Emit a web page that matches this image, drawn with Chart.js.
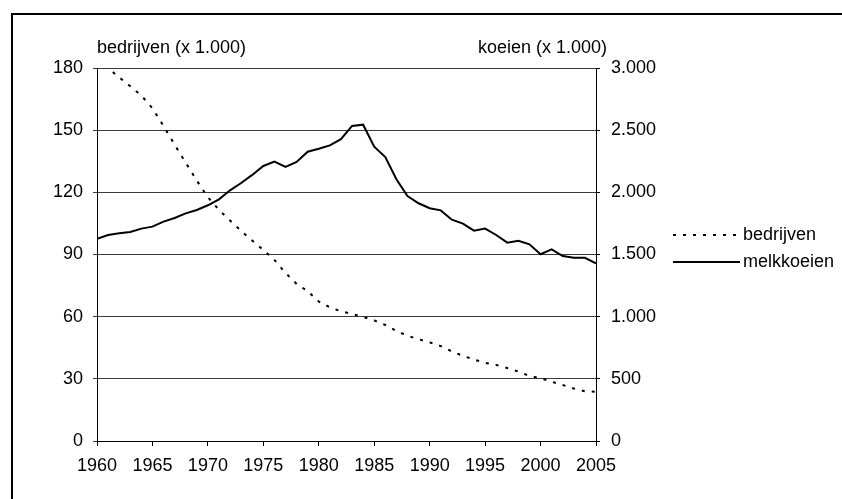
<!DOCTYPE html>
<html>
<head>
<meta charset="utf-8">
<script src="https://cdn.jsdelivr.net/npm/chart.js@4/dist/chart.umd.min.js"></script>
<style>
  html, body { margin: 0; padding: 0; background: #fff; }
  #wrap { width: 842px; height: 499px; position: relative; }
</style>
</head>
<body>
<div id="wrap"><canvas id="c" width="842" height="499"></canvas></div>
<script>
const years = [1960,1961,1962,1963,1964,1965,1966,1967,1968,1969,1970,1971,1972,1973,1974,1975,1976,1977,1978,1979,1980,1981,1982,1983,1984,1985,1986,1987,1988,1989,1990,1991,1992,1993,1994,1995,1996,1997,1998,1999,2000,2001,2002,2003,2004,2005];
const bedrijven = [184,180,175.5,171.2,166.7,160.6,152,143,134.3,125.7,117.6,111.5,106.4,101.4,96.7,92.2,87.4,81.1,75.8,72.3,67.3,64.5,62.6,61.3,59.9,58.2,56,53.1,50.8,49.1,47.6,45.8,43.2,41.1,39.3,37.7,36.7,35.2,33.5,31.4,30.3,28.6,27,25.3,24,23.8];
const melkkoeien = [1627,1657,1670,1681,1708,1724,1764,1794,1831,1858,1896,1944,2016,2075,2140,2212,2247,2204,2244,2327,2351,2378,2428,2534,2544,2367,2284,2105,1970,1912,1872,1855,1780,1748,1692,1708,1657,1595,1611,1582,1502,1542,1488,1474,1474,1429];
const seriesLabels = ['bedrijven','melkkoeien'];
const leftTickLabels = ['0','30','60','90','120','150','180'];
const rightTickLabels = ['0','500','1.000','1.500','2.000','2.500','3.000'];
const xTickLabels = ['1960','1965','1970','1975','1980','1985','1990','1995','2000','2005'];
const leftTitle = 'bedrijven (x 1.000)';
const rightTitle = 'koeien (x 1.000)';

const FONT = "'Liberation Sans', Arial, sans-serif";
const FSIZE = 18;

const extras = {
  id: 'extras',
  beforeDraw(chart) {
    const ctx = chart.ctx;
    ctx.save();
    ctx.fillStyle = '#fff';
    ctx.fillRect(0, 0, chart.width, chart.height);
    ctx.fillStyle = '#000';
    ctx.fillRect(11, 13, 2, chart.height);
    ctx.fillRect(11, 13, chart.width, 2);
    ctx.restore();
  },
  afterDraw(chart) {
    const ctx = chart.ctx;
    const ca = chart.chartArea;
    ctx.save();
    ctx.font = FSIZE + 'px ' + FONT;
    ctx.fillStyle = '#000';
    ctx.textBaseline = 'middle';
    ctx.textAlign = 'left';
    ctx.fillText(leftTitle, ca.left, 48);
    ctx.textAlign = 'right';
    ctx.fillText(rightTitle, ca.right + 11, 48);
    // legend
    const lx0 = 673, lx1 = 740, ys = [235, 262];
    chart.data.datasets.forEach((ds, i) => {
      ctx.beginPath();
      ctx.strokeStyle = ds.borderColor;
      ctx.lineWidth = ds.borderWidth;
      ctx.setLineDash(ds.borderDash || []);
      ctx.moveTo(lx0, ys[i]);
      ctx.lineTo(lx1, ys[i]);
      ctx.stroke();
      ctx.setLineDash([]);
      ctx.textAlign = 'left';
      ctx.fillText(ds.label, 743, ys[i]);
    });
    ctx.restore();
  }
};

const tickFont = { family: FONT, size: FSIZE };

new Chart(document.getElementById('c'), {
  type: 'line',
  data: {
    datasets: [
      {
        label: seriesLabels[0],
        data: years.map((y, i) => ({ x: y, y: bedrijven[i] })),
        yAxisID: 'y',
        borderColor: '#000',
        borderWidth: 2,
        borderDash: [3, 7],
        pointRadius: 0,
        tension: 0,
        fill: false
      },
      {
        label: seriesLabels[1],
        data: years.map((y, i) => ({ x: y, y: melkkoeien[i] })),
        yAxisID: 'y2',
        borderColor: '#000',
        borderWidth: 2,
        pointRadius: 0,
        tension: 0,
        fill: false
      }
    ]
  },
  options: {
    responsive: false,
    animation: false,
    devicePixelRatio: 1,
    layout: { padding: { top: 68, left: 0, right: 0, bottom: 0 } },
    plugins: { legend: { display: false }, tooltip: { enabled: false } },
    scales: {
      x: {
        type: 'linear',
        min: 1960, max: 2005,
        afterBuildTicks(scale) {
          scale.ticks = xTickLabels.map(t => ({ value: Number(t) }));
        },
        afterFit(scale) { scale.height = 58; },
        grid: { drawOnChartArea: false, drawTicks: true, tickLength: 5, color: '#000' },
        border: { color: '#000', width: 1 },
        ticks: {
          color: '#000', font: tickFont, padding: 9, maxRotation: 0, autoSkip: false,
          callback: (v) => xTickLabels[xTickLabels.indexOf(String(v))]
        }
      },
      y: {
        position: 'left',
        min: 0, max: 180,
        afterBuildTicks(scale) {
          scale.ticks = leftTickLabels.map(t => ({ value: Number(t) }));
        },
        afterFit(scale) { scale.width = 97; },
        grid: { color: '#3a3a3a', lineWidth: 1, drawTicks: true, tickLength: 4 },
        border: { color: '#000', width: 1 },
        ticks: {
          color: '#000', font: tickFont, padding: 10,
          callback: (v, i) => leftTickLabels[i]
        }
      },
      y2: {
        position: 'right',
        min: 0, max: 3000,
        afterBuildTicks(scale) {
          scale.ticks = rightTickLabels.map((t, i) => ({ value: i * 500 }));
        },
        afterFit(scale) { scale.width = 246; },
        grid: { drawOnChartArea: false, drawTicks: true, tickLength: 4, color: '#000' },
        border: { color: '#000', width: 1 },
        ticks: {
          color: '#000', font: tickFont, padding: 11,
          callback: (v, i) => rightTickLabels[i]
        }
      }
    }
  },
  plugins: [extras]
});
</script>
</body>
</html>
